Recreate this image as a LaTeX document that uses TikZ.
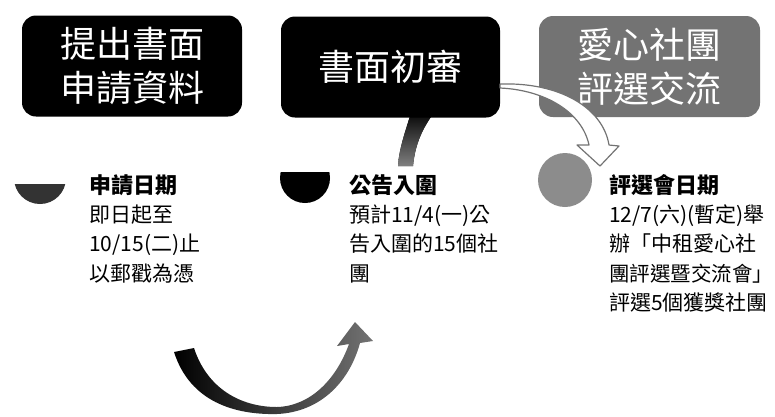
\documentclass[tikz,border=0pt]{standalone}
\usepackage{fontspec}
\newfontfamily\cjk{Noto Sans CJK TC}
\begin{document}
\begin{tikzpicture}[x=1pt,y=-1pt,
  box/.style={rounded corners=14pt, minimum width=#1, minimum height=101pt, inner sep=0pt,
    text=white, align=center, font=\cjk\fontsize{36}{44}\selectfont},
  hd/.style={anchor=base west, inner sep=0pt, font=\cjk\bfseries\fontsize{22}{26}\selectfont},
  bd/.style={anchor=base west, inner sep=0pt, font=\cjk\fontsize{21}{26}\selectfont},
  hollow/.style={fill=white, draw=black!55, line width=1.2pt, line join=round}]
\useasboundingbox (0,0) rectangle (775,416);

% dark band under box 2
\fill[top color=black, bottom color=black!50] (412,110) .. controls (404,135) and (399,150) .. (398,166)
  -- (413,166) .. controls (415,145) and (422,128) .. (436,110) -- cycle;

% boxes
\node[box=220pt, fill=black] (b1) at (132,66) {提出書面\\申請資料};
\node[box=219pt, fill=black] (b2) at (390.5,67) {書面初審};
\node[box=221pt, fill=black!55] (b3) at (649.5,66.5) {愛心社團\\評選交流};

% hollow arrow from box 2 to circle 3
\coordinate (hs) at (500,84);
\coordinate (ht) at (600,166);
\draw[hollow] (hs) .. controls (560,82) and (603,108) .. (609,145) -- (619,146) -- (ht)
  -- (577,145) -- (589,145) .. controls (582,112) and (545,90) .. (500,88) -- cycle;

% circles
\begin{scope}
  \clip (0,184) rectangle (100,230);
  \fill[black!80] (40,178) circle (26);
\end{scope}
\begin{scope}
  \clip (250,172) rectangle (360,230);
  \fill[black] (305,178) circle (25);
\end{scope}
\fill[black!45] (565,180) circle (27);

% column 1
\node[hd] (h1) at (89,193.5) {申請日期};
\node[bd] (t11) at (89,222) {即日起至};
\node[bd] (t12) at (89,251.5) {10/15(二)止};
\node[bd] (t13) at (89,281) {以郵戳為憑};

% column 2
\node[hd] (h2) at (349,193.5) {公告入圍};
\node[bd] (t21) at (349,222) {預計11/4(一)公};
\node[bd] (t22) at (349,251.5) {告入圍的15個社};
\node[bd] (t23) at (349,281) {團};

% column 3
\node[hd] (h3) at (609,193.5) {評選會日期};
\node[bd] (t31) at (609,222) {12/7(六)(暫定)舉};
\node[bd] (t32) at (609,251.5) {辦「中租愛心社};
\node[bd, font=\cjk\fontsize{20.5}{26}\selectfont] (t33) at (609,281) {團評選暨交流會」};
\node[bd] (t34) at (609,310.5) {評選5個獲獎社團};

% big curved arrow at bottom
\coordinate (ta) at (174,352);
\coordinate (tip) at (355,322);
\shade[left color=black, right color=black!55]
  (ta) .. controls (190,402) and (235,415) .. (277,414)
  .. controls (322,412) and (350,380) .. (360,343) -- (373,341) -- (tip)
  -- (337,346) -- (349,344) .. controls (336,380) and (310,406) .. (277,407)
  .. controls (240,407) and (207,388) .. (194,348) -- cycle;
\end{tikzpicture}
\end{document}
